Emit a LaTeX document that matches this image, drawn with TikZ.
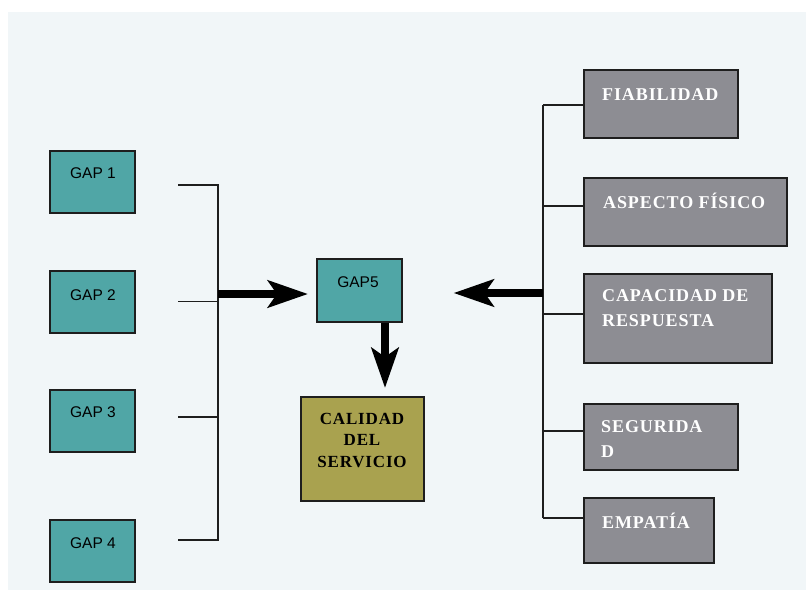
\documentclass[tikz,border=0pt]{standalone}
\usepackage{fontspec}
\setmainfont{Liberation Serif}
\newfontfamily\gapfont{Liberation Sans}
\newfontfamily\boxfont{Liberation Serif}[LetterSpace=5]
\usetikzlibrary{arrows.meta}

\definecolor{bgtint}{HTML}{F1F6F8}
\definecolor{gapteal}{HTML}{50A6A6}
\definecolor{factgray}{HTML}{8D8D93}
\definecolor{qualityolive}{HTML}{A9A24F}
\definecolor{edge}{HTML}{1E1E1E}

\begin{document}
\begin{tikzpicture}[x=1pt, y=-1pt,
  box/.style={draw=edge, line width=1.6pt, anchor=north west, inner sep=0pt},
  gapbox/.style={box, fill=gapteal, minimum width=85pt, minimum height=62pt},
  factbox/.style={box, fill=factgray},
  gaplabel/.style={font=\gapfont\fontsize{15.5}{18}\selectfont, text=black, inner sep=0pt, anchor=base},
  factlabel/.style={font=\boxfont\bfseries\fontsize{18}{25}\selectfont, text=white, inner sep=0pt, align=left},
  qualitylabel/.style={font=\boxfont\bfseries\fontsize{17}{21.5}\selectfont, text=black, inner sep=0pt, align=center, anchor=north},
  bracket/.style={draw=edge, line width=1.4pt},
  bigarrow/.style={draw=black, line width=8pt,
    -{Stealth[length=40pt, width=27pt, inset=9pt]}}
]
\useasboundingbox (0,0) rectangle (806,590);
% tinted sheet behind the diagram
\fill[bgtint] (8,12) rectangle (806,590);

% ---- GAP boxes on the left ----
\node[gapbox] (g1) at (49,150) {};
\node[gapbox] (g2) at (49,270) {};
\node[gapbox] (g3) at (49,389) {};
\node[gapbox] (g4) at (49,519) {};
\node[gaplabel] (g1t) at (93,178) {GAP 1};
\node[gaplabel] (g2t) at (93,300) {GAP 2};
\node[gaplabel] (g3t) at (93,417) {GAP 3};
\node[gaplabel] (g4t) at (93,548) {GAP 4};

% ---- central boxes ----
\node[gapbox, minimum height=63pt] (g5) at (316,258) {};
\node[gaplabel] (g5t) at (358,287) {GAP5};
\node[box, fill=qualityolive, minimum width=123pt, minimum height=104pt] (cal) at (300,396) {};
\node[qualitylabel] (calt) at (362,413) {CALIDAD\\DEL\\SERVICIO};

% ---- factor boxes on the right ----
\node[factbox, minimum width=154pt, minimum height=68pt] (fia) at (583,69) {};
\node[factbox, minimum width=203pt, minimum height=68pt] (asp) at (583,177) {};
\node[factbox, minimum width=188pt, minimum height=89pt] (cap) at (583,273) {};
\node[factbox, minimum width=154pt, minimum height=66pt] (seg) at (583,403) {};
\node[factbox, minimum width=130pt, minimum height=65pt] (emp) at (583,497) {};
\node[factlabel, anchor=north west] (fiat) at (602,88) {FIABILIDAD};
\node[factlabel, anchor=base west] (aspt) at (603,208) {ASPECTO FÍSICO};
\node[factlabel, anchor=north west] (capt) at (602,289) {CAPACIDAD DE\\RESPUESTA};
\node[factlabel, anchor=north west] (segt) at (601,420) {SEGURIDA\\D};
\node[factlabel, anchor=base west] (empt) at (602,528) {EMPATÍA};

% ---- left bracket gathering the GAPs ----
\coordinate (l1) at (218,185);
\coordinate (l2) at (218,301);
\coordinate (l3) at (218,417);
\coordinate (l4) at (218,540);
\coordinate (s1) at (178,185);
\coordinate (s2) at (178,301);
\coordinate (s3) at (178,417);
\coordinate (s4) at (178,540);
\draw[bracket] (s1) -- (l1) -- (l4) -- (s4);
\draw[bracket, line width=1pt] (s2) -- (l2);
\draw[bracket] (s3) -- (l3);

% ---- right spine gathering the factors ----
\coordinate (r1) at (543,105);
\coordinate (r2) at (543,206);
\coordinate (r3) at (543,314);
\coordinate (r4) at (543,431);
\coordinate (r5) at (543,518);
\draw[bracket, line width=1.2pt] (r1) -- (r5);
\draw[bracket, line width=1.2pt] (r1) -- (r1 -| fia.west);
\draw[bracket, line width=1.2pt] (r2) -- (r2 -| asp.west);
\draw[bracket, line width=1.2pt] (r3) -- (r3 -| cap.west);
\draw[bracket, line width=2.2pt] (r4) -- (r4 -| seg.west);
\draw[bracket, line width=1.2pt] (r5) -- (r5 -| emp.west);

% ---- thick arrows into and out of GAP5 ----
\coordinate (lj) at (218,294);
\coordinate (rj) at (543,293);
\coordinate (dtip) at (385,388);
\draw[bigarrow, shorten >=8pt] (lj) -- (g5.west |- lj);
\draw[bigarrow, shorten >=51pt] (rj) -- (g5.east |- rj);
\draw[bigarrow] (g5.south -| dtip) -- (dtip);
\end{tikzpicture}
\end{document}
